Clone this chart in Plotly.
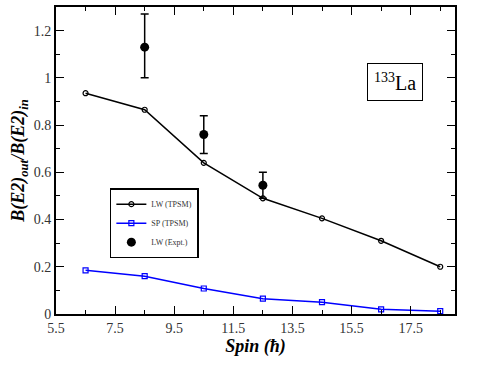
import plotly.graph_objects as go

spin = [6.5, 8.5, 10.5, 12.5, 14.5, 16.5, 18.5]
lw_tpsm = [0.935, 0.865, 0.64, 0.49, 0.405, 0.31, 0.2]
sp_tpsm = [0.185, 0.16, 0.108, 0.065, 0.05, 0.02, 0.012]
expt_spin = [8.5, 10.5, 12.5]
expt_val = [1.13, 0.76, 0.545]
expt_err_plus = [0.14, 0.08, 0.055]
expt_err_minus = [0.13, 0.08, 0.055]
x_ticks = [5.5, 7.5, 9.5, 11.5, 13.5, 15.5, 17.5]
y_ticks = [0, 0.2, 0.4, 0.6, 0.8, 1, 1.2]

font = "Liberation Serif"

fig = go.Figure()
fig.add_trace(go.Scatter(
    x=spin, y=lw_tpsm, mode="lines+markers", name="LW (TPSM)",
    line=dict(color="black", width=1.5),
    marker=dict(symbol="circle-open", size=5, color="black", line=dict(width=1.2)),
))
fig.add_trace(go.Scatter(
    x=spin, y=sp_tpsm, mode="lines+markers", name="SP (TPSM)",
    line=dict(color="blue", width=1.5),
    marker=dict(symbol="square-open", size=5, color="blue", line=dict(width=1.2)),
))
fig.add_trace(go.Scatter(
    x=expt_spin, y=expt_val, mode="markers", name="LW (Expt.)",
    marker=dict(symbol="circle", size=9, color="black"),
    error_y=dict(type="data", symmetric=False, array=expt_err_plus,
                 arrayminus=expt_err_minus, color="black", thickness=1.5, width=4),
))

axis_common = dict(
    showline=True, linecolor="black", linewidth=2, mirror="ticks",
    ticks="inside", ticklen=8, tickwidth=1.2, tickcolor="black",
    showgrid=False, zeroline=False, automargin=False,
    tickfont=dict(family=font, size=14, color="#333"),
)

fig.update_xaxes(
    range=[5.5, 19], tickvals=x_ticks, ticktext=[str(v) for v in x_ticks],
    minor=dict(dtick=1, tick0=5.5, ticks="inside", ticklen=4, tickcolor="black", tickwidth=1),
    title=dict(text="<b><i>Spin (ħ)</i></b>", font=dict(family=font, size=18, color="black"), standoff=2),
    **axis_common,
)
fig.update_yaxes(
    range=[0, 1.3], tickvals=y_ticks, ticktext=["0", "0.2", "0.4", "0.6", "0.8", "1", "1.2"],
    minor=dict(dtick=0.1, tick0=0, ticks="inside", ticklen=4, tickcolor="black", tickwidth=1),
    title=dict(text="<b><i>B(E2)<sub>out</sub>/B(E2)<sub>in</sub></i></b>",
               font=dict(family=font, size=18, color="black"), standoff=4),
    **axis_common,
)

fig.add_annotation(
    x=0.85, y=0.755, xref="paper", yref="paper", xanchor="center", yanchor="middle",
    text="<sup>133</sup>La", showarrow=False,
    font=dict(family=font, size=20, color="black"),
    bordercolor="black", borderwidth=1, borderpad=6, bgcolor="white",
)

fig.update_layout(
    width=479, height=370,
    margin=dict(l=56, r=24, t=7, b=56),
    plot_bgcolor="white", paper_bgcolor="white",
    showlegend=True,
    legend=dict(
        x=0.135, y=0.41, xanchor="left", yanchor="top",
        font=dict(family=font, size=8, color="#333"),
        bordercolor="black", borderwidth=1.5, bgcolor="white",
        itemwidth=30, tracegroupgap=0,
    ),
)

fig.write_html("out.html", config={"displayModeBar": False},
               post_script="document.body.style.margin='0';")
